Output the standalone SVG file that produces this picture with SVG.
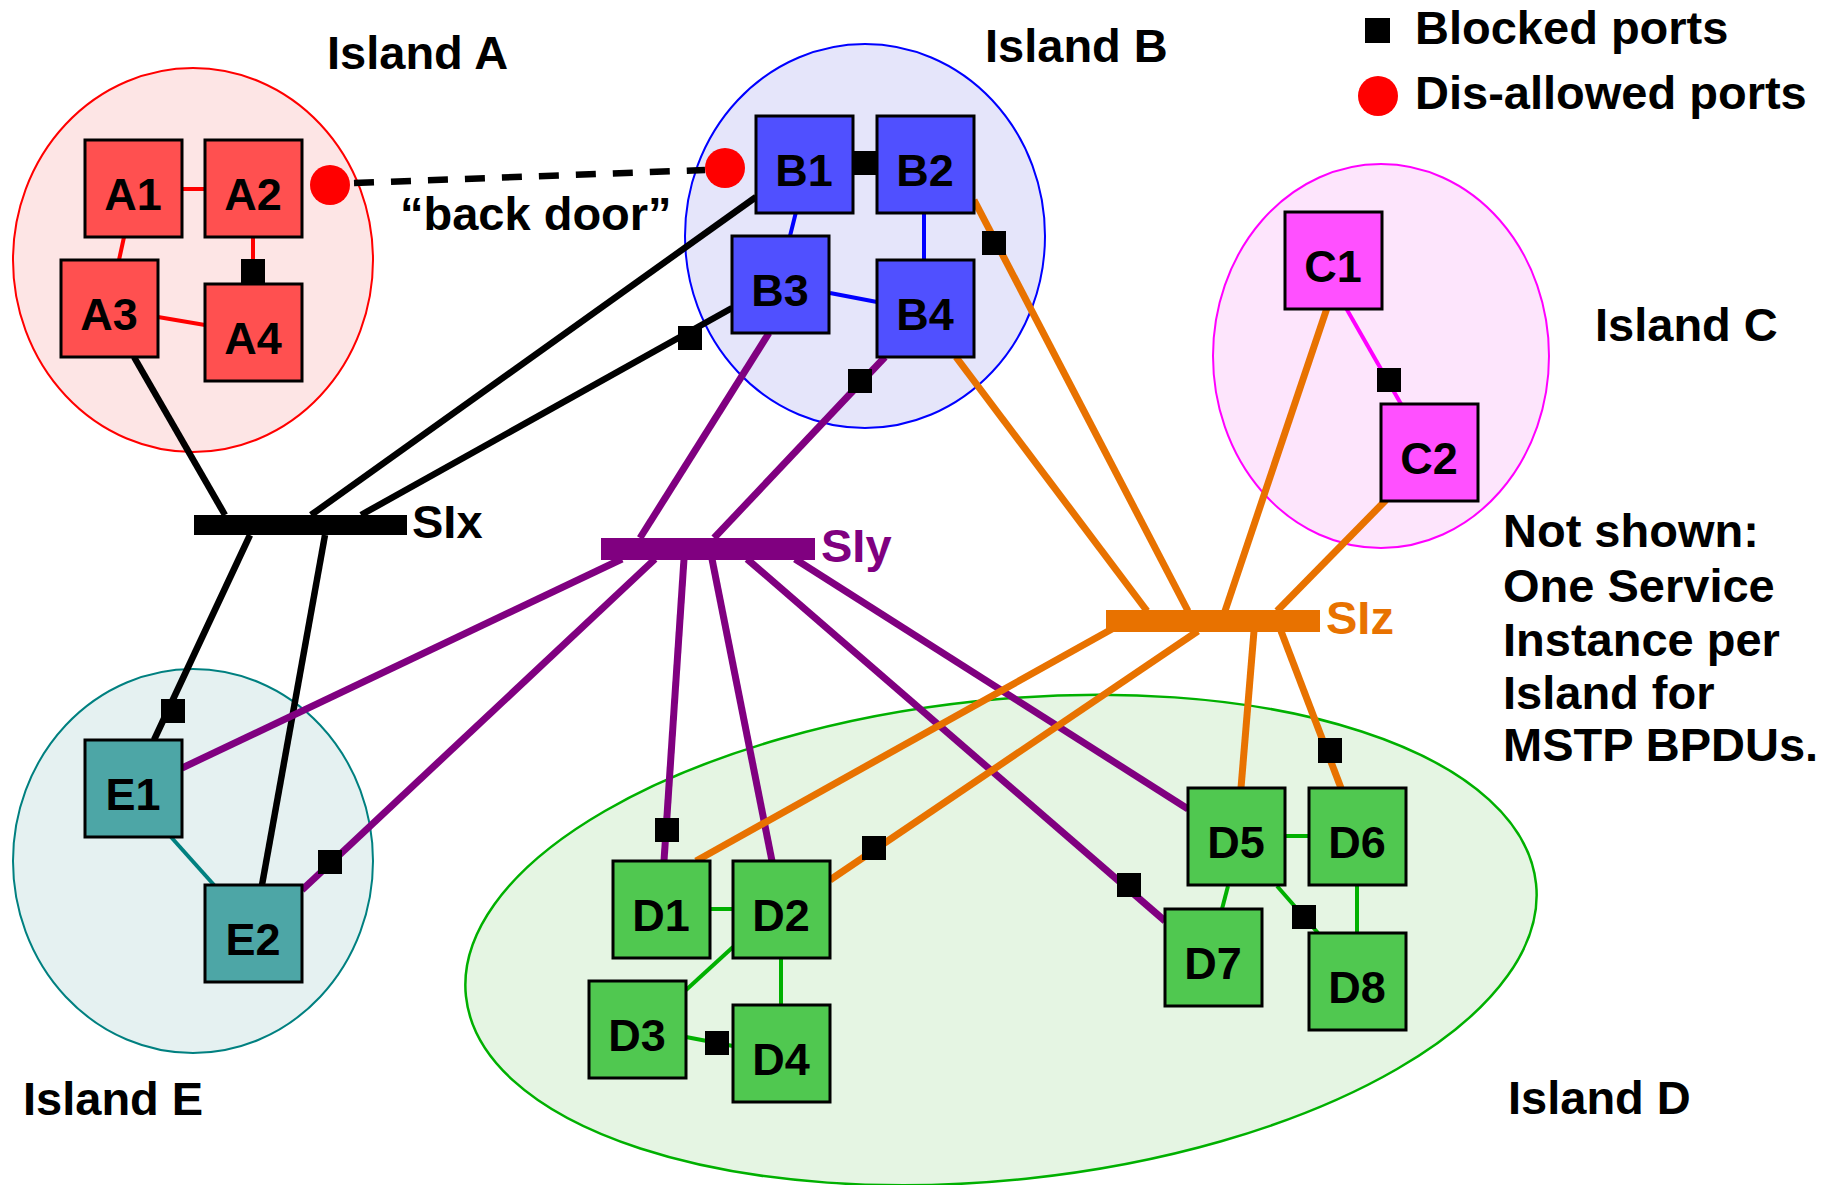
<svg xmlns="http://www.w3.org/2000/svg" width="1843" height="1185" viewBox="0 0 1843 1185">
<style>
text{font-family:"Liberation Sans",Arial,sans-serif;font-weight:bold;fill:#000}
.lbl{font-size:47px}
.nl{font-size:45px;text-anchor:middle}
.node{stroke:#000;stroke-width:3}
.a{fill:#ff5050}.b{fill:#5050ff}.c{fill:#ff50ff}.d{fill:#50c850}.e{fill:#4da6a6}
.blk{fill:#000}
.dot{fill:#ff0000}
.k{stroke:#000;stroke-width:6.5;fill:none}
.p{stroke:#800080;stroke-width:7;fill:none}
.o{stroke:#e87200;stroke-width:7;fill:none}
.ra{stroke:#ff0000;stroke-width:4}
.rb{stroke:#0000ff;stroke-width:4}
.rc{stroke:#ff00ff;stroke-width:4}
.rd{stroke:#00b000;stroke-width:4}
.re{stroke:#008080;stroke-width:4}
</style>
<g id="islands">
<ellipse id="islandA" cx="193" cy="260" rx="180" ry="192" fill="#fde5e5" stroke="#ff0000" stroke-width="2"/>
<ellipse id="islandB" cx="865" cy="236" rx="180" ry="192" fill="#e5e5fa" stroke="#0000ff" stroke-width="2"/>
<ellipse id="islandC" cx="1381" cy="356" rx="168" ry="192" fill="#fde5fc" stroke="#ff00ff" stroke-width="2"/>
<ellipse id="islandD" cx="1001" cy="940" rx="538" ry="240" transform="rotate(-6 1001 940)" fill="#e5f5e3" stroke="#00b000" stroke-width="2.5"/>
<ellipse id="islandE" cx="193" cy="861" rx="180" ry="192" fill="#e5f1f1" stroke="#008080" stroke-width="2"/>
</g>
<g id="connectors">
<line class="ra" x1="182" y1="189" x2="205" y2="189"/>
<line class="ra" x1="124" y1="237" x2="119" y2="260"/>
<line class="ra" x1="158" y1="317" x2="205" y2="325"/>
<line class="ra" x1="253" y1="237" x2="253" y2="284"/>
<line class="rb" x1="854" y1="163" x2="877" y2="163"/>
<line class="rb" x1="796" y1="212" x2="790" y2="236"/>
<line class="rb" x1="924" y1="212" x2="924" y2="260"/>
<line class="rb" x1="830" y1="293" x2="877" y2="302"/>
<line class="rc" x1="1346" y1="308" x2="1401" y2="404"/>
<line class="rd" x1="710" y1="909" x2="733" y2="909"/>
<line class="rd" x1="733" y1="947" x2="686" y2="990"/>
<line class="rd" x1="781" y1="958" x2="781" y2="1005"/>
<line class="rd" x1="686" y1="1037" x2="733" y2="1046"/>
<line class="rd" x1="1286" y1="836" x2="1309" y2="836"/>
<line class="rd" x1="1357" y1="886" x2="1357" y2="933"/>
<line class="rd" x1="1228" y1="886" x2="1222" y2="909"/>
<line class="rd" x1="1277" y1="886" x2="1318" y2="933"/>
<line class="re" x1="171" y1="837" x2="214" y2="885"/>
<line class="k" x1="354" y1="183" x2="705" y2="170" stroke-dasharray="20 17"/>
<line class="k" x1="134" y1="357" x2="225" y2="515"/>
<line class="k" x1="756" y1="197" x2="311" y2="515"/>
<line class="k" x1="732" y1="308" x2="361" y2="515"/>
<line class="k" x1="250" y1="535" x2="154" y2="740"/>
<line class="k" x1="325" y1="535" x2="262" y2="885"/>
<line class="p" x1="769" y1="333" x2="640" y2="538"/>
<line class="p" x1="885" y1="357" x2="714" y2="538"/>
<line class="p" x1="622" y1="559" x2="182" y2="768"/>
<line class="p" x1="655" y1="559" x2="302" y2="890"/>
<line class="p" x1="684" y1="559" x2="664" y2="861"/>
<line class="p" x1="712" y1="559" x2="772" y2="861"/>
<line class="p" x1="747" y1="559" x2="1165" y2="921"/>
<line class="p" x1="795" y1="559" x2="1188" y2="809"/>
<line class="o" x1="974" y1="200" x2="1188" y2="611" stroke-width="4.5"/>
<line class="o" x1="956" y1="357" x2="1147" y2="611"/>
<line class="o" x1="1327" y1="308" x2="1225" y2="611"/>
<line class="o" x1="1386" y1="500" x2="1277" y2="611"/>
<line class="o" x1="1112" y1="629" x2="696" y2="861"/>
<line class="o" x1="1198" y1="631" x2="830" y2="880"/>
<line class="o" x1="1254" y1="631" x2="1241" y2="788" stroke-width="6.5"/>
<line class="o" x1="1281" y1="631" x2="1341" y2="788" stroke-width="6.5"/>
</g>
<g id="SIx"><rect x="194" y="515" width="213" height="20" fill="#000"/><text class="lbl" x="412" y="538">SIx</text></g>
<g id="SIy"><rect x="601" y="538" width="214" height="22" fill="#800080"/><text class="lbl" x="821" y="562" style="fill:#800080">SIy</text></g>
<g id="SIz"><rect x="1106" y="610" width="214" height="22" fill="#e87200"/><text class="lbl" x="1326" y="634" style="fill:#e87200">SIz</text></g>
<g id="A1"><rect class="node a" x="85" y="140" width="97" height="97"/><text class="nl" x="133" y="210">A1</text></g>
<g id="A2"><rect class="node a" x="205" y="140" width="97" height="97"/><text class="nl" x="253" y="210">A2</text></g>
<g id="A3"><rect class="node a" x="61" y="260" width="97" height="97"/><text class="nl" x="109" y="330">A3</text></g>
<g id="A4"><rect class="node a" x="205" y="284" width="97" height="97"/><text class="nl" x="253" y="354">A4</text></g>
<g id="B1"><rect class="node b" x="756" y="116" width="97" height="97"/><text class="nl" x="804" y="186">B1</text></g>
<g id="B2"><rect class="node b" x="877" y="116" width="97" height="97"/><text class="nl" x="925" y="186">B2</text></g>
<g id="B3"><rect class="node b" x="732" y="236" width="97" height="97"/><text class="nl" x="780" y="306">B3</text></g>
<g id="B4"><rect class="node b" x="877" y="260" width="97" height="97"/><text class="nl" x="925" y="330">B4</text></g>
<g id="C1"><rect class="node c" x="1285" y="212" width="97" height="97"/><text class="nl" x="1333" y="282">C1</text></g>
<g id="C2"><rect class="node c" x="1381" y="404" width="97" height="97"/><text class="nl" x="1429" y="474">C2</text></g>
<g id="D1"><rect class="node d" x="613" y="861" width="97" height="97"/><text class="nl" x="661" y="931">D1</text></g>
<g id="D2"><rect class="node d" x="733" y="861" width="97" height="97"/><text class="nl" x="781" y="931">D2</text></g>
<g id="D3"><rect class="node d" x="589" y="981" width="97" height="97"/><text class="nl" x="637" y="1051">D3</text></g>
<g id="D4"><rect class="node d" x="733" y="1005" width="97" height="97"/><text class="nl" x="781" y="1075">D4</text></g>
<g id="D5"><rect class="node d" x="1188" y="788" width="97" height="97"/><text class="nl" x="1236" y="858">D5</text></g>
<g id="D6"><rect class="node d" x="1309" y="788" width="97" height="97"/><text class="nl" x="1357" y="858">D6</text></g>
<g id="D7"><rect class="node d" x="1165" y="909" width="97" height="97"/><text class="nl" x="1213" y="979">D7</text></g>
<g id="D8"><rect class="node d" x="1309" y="933" width="97" height="97"/><text class="nl" x="1357" y="1003">D8</text></g>
<g id="E1"><rect class="node e" x="85" y="740" width="97" height="97"/><text class="nl" x="133" y="810">E1</text></g>
<g id="E2"><rect class="node e" x="205" y="885" width="97" height="97"/><text class="nl" x="253" y="955">E2</text></g>
<g id="ports">
<rect class="blk" x="241" y="259" width="24" height="25"/>
<rect class="blk" x="854" y="151" width="24" height="24"/>
<rect class="blk" x="982" y="231" width="24" height="24"/>
<rect class="blk" x="678" y="326" width="24" height="24"/>
<rect class="blk" x="848" y="369" width="24" height="24"/>
<rect class="blk" x="1377" y="368" width="24" height="24"/>
<rect class="blk" x="161" y="699" width="24" height="24"/>
<rect class="blk" x="318" y="850" width="24" height="24"/>
<rect class="blk" x="655" y="818" width="24" height="24"/>
<rect class="blk" x="862" y="836" width="24" height="24"/>
<rect class="blk" x="1117" y="873" width="24" height="24"/>
<rect class="blk" x="1318" y="738" width="24" height="25"/>
<rect class="blk" x="1292" y="905" width="24" height="24"/>
<rect class="blk" x="705" y="1031" width="24" height="24"/>
<circle class="dot" cx="330" cy="185" r="20"/>
<circle class="dot" cx="725" cy="168" r="20"/>
</g>
<g id="labels">
<text class="lbl" x="327" y="69">Island A</text>
<text class="lbl" x="985" y="62">Island B</text>
<text class="lbl" x="1595" y="341">Island C</text>
<text class="lbl" x="1508" y="1114">Island D</text>
<text class="lbl" x="23" y="1115">Island E</text>
<text class="lbl" x="400" y="230">“back door”</text>
</g>
<g id="legend">
<rect class="blk" x="1365" y="18" width="25" height="25"/>
<text class="lbl" x="1415" y="44">Blocked ports</text>
<circle class="dot" cx="1378" cy="96" r="20"/>
<text class="lbl" x="1415" y="109">Dis-allowed ports</text>
</g>
<g id="note">
<text class="lbl" x="1503" y="547">Not shown:</text>
<text class="lbl" x="1503" y="602">One Service</text>
<text class="lbl" x="1503" y="656">Instance per</text>
<text class="lbl" x="1503" y="709">Island for</text>
<text class="lbl" x="1503" y="761">MSTP BPDUs.</text>
</g>
</svg>
